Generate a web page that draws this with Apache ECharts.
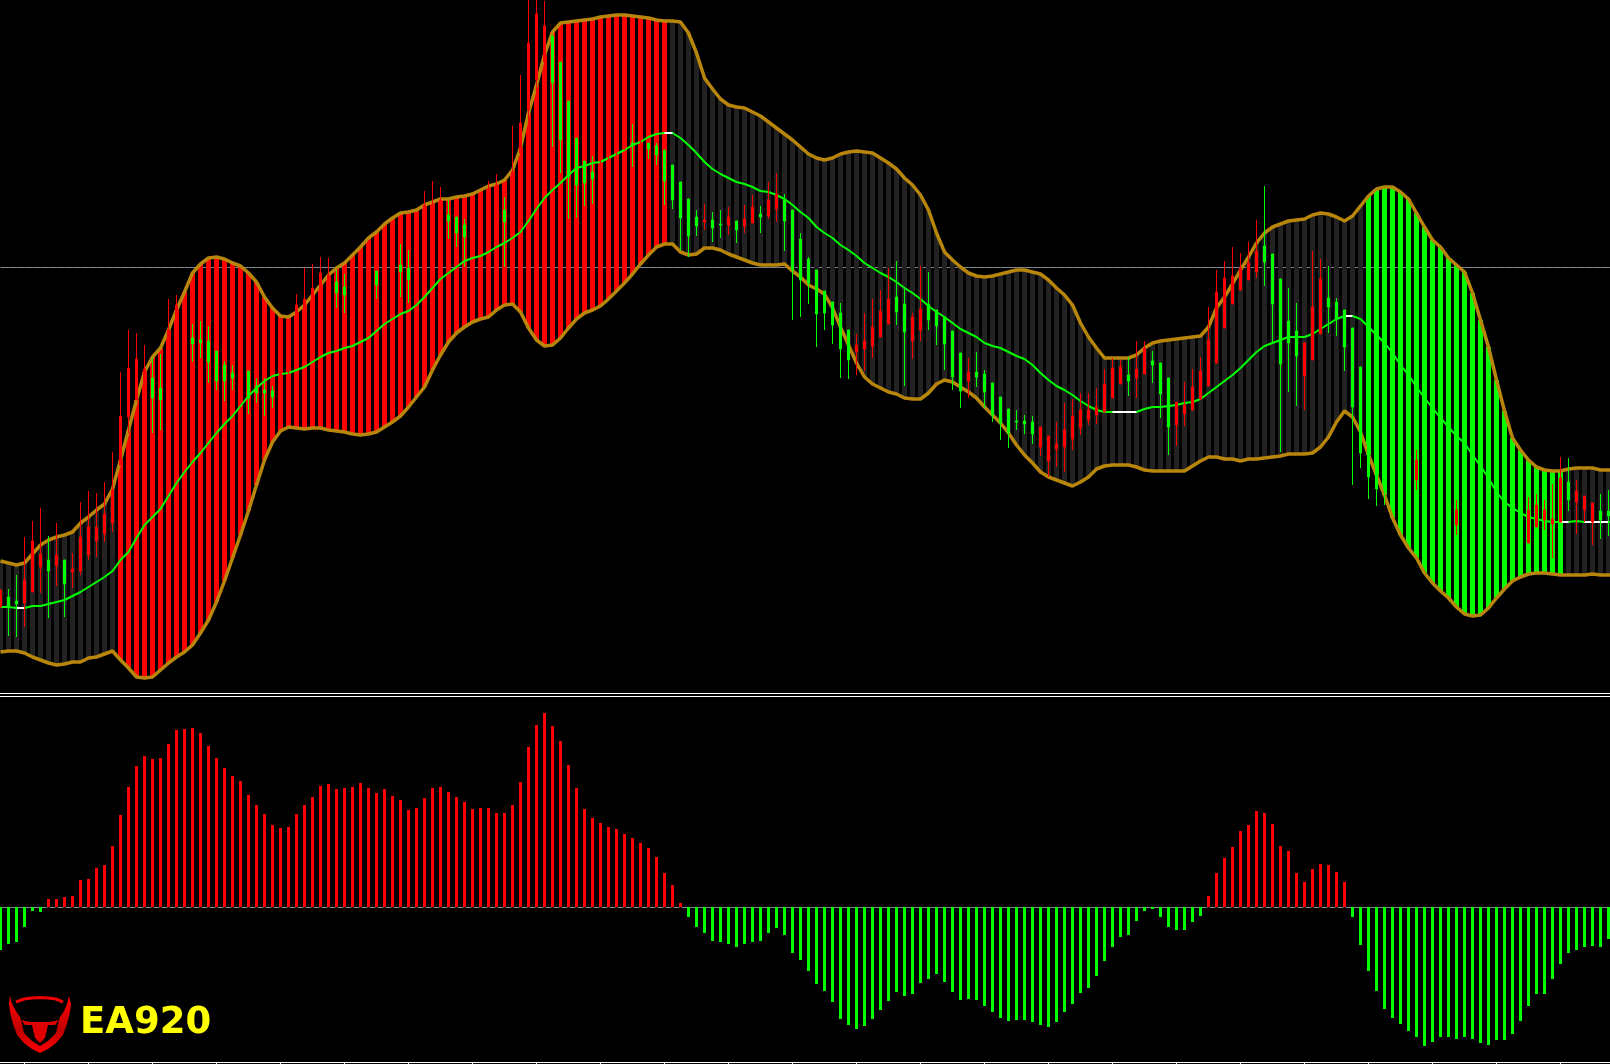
<!DOCTYPE html>
<html>
<head>
<meta charset="utf-8">
<style>html,body{margin:0;padding:0;background:#000;overflow:hidden}#c{width:1610px;height:1064px}</style>
<script src="https://cdn.jsdelivr.net/npm/echarts@6/dist/echarts.min.js"></script>
</head>
<body>
<div id="c"></div>
<script>
// Values are price points.
const upperBand = [132,130,128,130,139,148,153,156,158,161,170,176,183,189,204,233,263,293,321,336,345,363,383,401,420,429,435,436,434,430,427,420,411,396,385,377,376,381,388,398,408,418,425,430,438,446,455,461,469,475,480,481,483,488,491,494,494,496,497,499,503,507,509,513,523,545,580,608,638,661,670,671,672,673,674,676,677,678,678,677,676,675,673,672,672,671,660,640,615,604,594,588,586,585,581,577,571,565,559,553,546,539,535,533,535,539,541,542,541,540,535,530,524,515,508,498,483,460,441,433,426,420,417,416,417,419,421,423,423,421,419,413,405,398,388,370,356,345,335,335,335,335,338,345,350,352,353,354,355,356,357,366,385,396,409,423,436,450,460,466,469,472,473,474,478,480,479,476,472,477,487,497,504,506,506,501,494,480,466,453,446,435,428,421,400,373,346,313,282,255,243,233,226,223,222,222,224,225,225,225,223,223,223];
const lowerBand = [41,42,42,40,36,33,30,28,29,31,31,35,36,39,42,33,25,16,15,16,23,30,36,41,48,60,73,91,112,135,158,182,208,233,251,262,266,265,264,265,265,263,262,261,259,258,259,261,266,271,277,286,296,306,323,338,351,360,366,371,374,376,383,388,389,381,365,353,347,348,355,365,374,380,383,387,394,402,410,419,429,438,446,449,449,441,438,439,445,445,443,439,436,433,430,428,428,428,429,422,416,408,404,399,385,366,348,330,316,309,305,301,299,295,294,294,300,309,313,311,306,301,295,286,278,270,260,248,238,230,221,216,213,210,207,211,216,224,227,228,228,228,226,223,222,222,222,222,222,227,232,236,236,234,234,232,234,234,235,236,237,239,239,239,240,246,256,271,282,276,261,238,218,198,175,158,145,135,120,110,102,95,86,79,77,78,85,95,104,112,116,119,120,120,119,118,118,118,118,119,118,118,118];
const middleLine = [86,86,85,85,87,87,89,91,93,97,101,106,111,116,122,133,141,155,168,176,184,197,210,221,231,240,250,260,269,277,287,297,305,312,317,319,320,323,326,331,336,340,342,345,347,351,355,362,369,374,379,382,388,396,405,414,420,426,432,435,437,441,446,450,455,461,472,484,495,503,510,518,525,527,530,531,535,539,543,548,551,556,559,560,560,555,548,540,531,524,519,515,511,509,506,502,501,498,494,488,481,475,466,460,455,448,443,437,430,425,420,416,411,405,400,394,387,381,376,370,364,360,356,350,347,345,341,337,334,328,320,313,307,303,298,292,287,283,281,281,281,281,281,284,286,286,287,288,290,291,294,300,306,312,318,325,333,341,347,350,353,356,356,356,359,364,369,374,377,377,374,366,358,350,340,328,318,306,295,285,275,266,257,250,238,227,215,201,191,185,180,176,174,172,171,171,171,172,171,171,171,171,171];
const flatRuns = [[2,3],[83,84],[139,142],[168,169],[195,196],[198,199],[200,201]];
const trendRuns = [[0,14,'flat'],[15,83,'up'],[84,170,'flat'],[171,195,'down'],[196,202,'flat']];
const candleDir = 'RGGRRRGRGRRRRRRRRRRGGRRRGGGGGGRGGGGRRRRRRRGGRRRGRRGGRRRRGGGRRRRGRRRRRGGGGGGRRRRGRGGGGGGGRGGRGRRGRRGGGGGGGGGRRRRRGGRRGGGGGRGGGGGGGGRRRRRRRRRRRGRRGGGRRRRRRRRRRRGGGGGRRRGGGGGGGGGGGRGGGGRGGGGGGGGRRRRRGRRRGGGGR';
const candleHigh = [103,104,118,156,172,185,157,170,133,140,191,202,200,211,241,321,363,360,348,335,339,394,398,393,369,372,367,342,332,328,353,322,315,315,307,343,363,399,425,429,436,435,423,419,431,443,453,422,458,463,449,443,478,502,512,506,493,476,474,493,498,512,519,496,567,618,693,693,692,657,631,592,555,532,537,573,578,583,583,569,588,550,550,543,528,511,494,483,489,481,483,486,472,488,498,487,511,520,499,483,460,436,423,402,391,390,363,359,380,394,403,425,432,405,380,427,421,383,376,362,340,335,341,323,310,296,284,283,278,277,266,257,271,290,294,300,300,305,324,335,333,336,352,352,342,330,315,291,311,324,336,386,423,432,446,440,451,473,507,439,414,405,390,351,442,434,427,395,383,365,326,308,283,263,263,220,253,243,233,223,210,203,193,188,178,173,168,163,159,166,179,196,199,193,209,236,235,213,197,190,199,203];
const candleBodyTop = [103,96,92,113,152,139,133,138,133,124,156,166,166,179,203,277,325,334,324,315,305,363,388,373,355,353,352,342,328,320,343,322,307,303,302,333,348,388,394,405,420,418,411,406,423,438,443,422,448,453,428,425,468,488,488,493,478,476,468,483,488,498,508,483,521,570,650,679,667,657,631,592,555,532,521,563,568,573,571,550,578,550,547,543,528,511,494,476,473,473,469,476,472,474,486,479,493,499,493,483,454,434,423,402,391,380,363,348,352,366,382,394,396,389,376,384,389,383,376,362,340,321,321,319,310,296,284,272,272,271,266,257,249,263,277,283,283,286,309,325,326,318,324,345,332,330,315,291,288,306,322,353,401,415,417,425,430,442,447,439,414,372,362,350,386,414,395,391,383,365,326,298,273,253,253,207,243,233,223,213,199,193,183,178,168,163,158,153,142,142,161,183,188,183,174,215,211,202,197,190,182,182];
const candleBodyBottom = [86,86,89,90,101,126,122,127,109,121,122,138,152,159,170,228,276,293,293,295,293,343,373,353,349,350,331,312,312,315,328,295,300,300,296,318,328,368,368,383,398,403,400,398,408,423,428,408,433,438,421,413,448,468,473,478,472,460,456,468,473,478,488,471,493,540,583,613,631,610,553,516,508,510,514,543,548,553,555,547,563,544,538,512,493,475,457,467,471,465,468,468,463,467,470,476,477,484,472,423,413,410,379,380,368,344,333,341,344,347,356,369,381,361,352,363,373,367,349,316,302,312,316,301,278,270,260,271,269,259,246,232,244,246,254,265,273,278,281,295,309,312,315,319,328,299,266,268,279,283,294,307,330,365,389,403,413,421,431,389,329,350,337,317,333,359,386,374,346,286,240,216,204,203,233,203,223,213,203,193,180,173,168,163,153,148,143,143,140,140,141,150,166,173,169,171,193,191,183,171,173,177];
const candleLow = [86,57,56,66,101,100,75,107,76,105,118,133,136,151,161,228,260,293,283,260,263,333,353,338,331,335,310,303,292,303,313,279,290,277,285,303,313,353,353,363,378,388,385,380,395,408,413,394,418,423,396,390,433,453,458,463,454,446,426,453,458,463,473,426,478,533,558,578,608,546,520,474,475,487,489,528,533,538,543,526,548,534,528,488,484,443,436,457,463,451,455,458,450,460,470,460,474,471,442,373,376,389,346,363,349,315,314,318,322,335,356,369,368,307,334,352,363,348,323,303,285,295,306,285,271,253,245,263,259,249,237,216,226,221,243,258,268,269,281,295,309,297,295,319,310,275,238,247,267,283,293,307,330,365,389,403,413,415,407,351,241,301,287,283,333,359,360,357,322,208,225,194,187,188,218,200,213,203,193,183,167,163,158,153,143,138,133,133,126,126,138,150,166,163,135,171,182,159,171,148,154,157];
const oscillator = [-43,-37,-35,-20,-4,-5,8,8,10,11,27,28,39,42,61,92,120,141,151,148,149,163,177,178,179,174,161,149,139,131,126,112,102,93,82,79,80,93,102,110,121,123,118,119,120,124,119,114,118,111,107,97,99,109,119,120,115,110,105,98,99,99,94,94,102,125,160,182,194,181,166,142,119,98,89,84,80,78,73,69,64,59,50,34,22,4,-10,-20,-26,-34,-35,-37,-40,-37,-35,-34,-26,-21,-28,-46,-53,-64,-77,-84,-95,-112,-118,-122,-119,-112,-103,-94,-85,-89,-87,-76,-72,-67,-75,-85,-93,-92,-93,-99,-105,-111,-114,-113,-113,-115,-118,-120,-115,-105,-97,-86,-81,-69,-54,-40,-30,-28,-14,-4,-2,-10,-20,-23,-23,-15,-9,11,34,49,60,76,82,96,94,83,61,56,34,25,38,43,42,35,25,-10,-38,-64,-84,-102,-111,-117,-124,-130,-139,-135,-130,-130,-132,-130,-132,-136,-138,-133,-133,-127,-114,-99,-87,-87,-72,-57,-46,-43,-40,-39,-40,-32];
const referenceLevel = 425.5;
const logoText = 'EA920';

const RED = '#ff0000', LIME = '#00ff00', GOLD = '#b8860b', FLAT = '#222222', GRAY = '#808890', WHITE = '#ffffff';
const categories = upperBand.map((_, i) => i + 1);
const zoneColor = {flat: FLAT, up: RED, down: LIME};
const bandColor = categories.map((_, i) => zoneColor[trendRuns.find(r => i >= r[0] && i <= r[1])[2]]);
const whiteLine = categories.map((_, i) => flatRuns.some(r => i >= r[0] && i <= r[1]) ? middleLine[i] : null);
const candles = candleHigh.map((h, i) => {
  const up = candleDir[i] === 'R';
  return [up ? candleBodyBottom[i] : candleBodyTop[i], up ? candleBodyTop[i] : candleBodyBottom[i], candleLow[i], h];
});

const hiddenAxis = {show: false, scale: false, splitLine: {show: false}};
const xBase = {type: 'category', data: categories, axisLabel: {show: false}, splitLine: {show: false}, boundaryGap: true};
const chart = echarts.init(document.getElementById('c'), null, {renderer: 'canvas'});
chart.setOption({
  animation: false,
  backgroundColor: '#000',
  grid: [
    {left: -3.5, top: 0, width: 8 * categories.length, height: 693, containLabel: false, outerBoundsMode: 'none'},
    {left: -3.5, top: 696, width: 8 * categories.length, height: 366, containLabel: false, outerBoundsMode: 'none'}
  ],
  xAxis: [
    Object.assign({}, xBase, {gridIndex: 0, position: 'bottom', axisTick: {show: false},
      axisLine: {show: true, onZero: false, lineStyle: {color: WHITE, width: 1}}}),
    Object.assign({}, xBase, {gridIndex: 1, axisTick: {show: false},
      axisLine: {show: true, onZero: true, lineStyle: {color: GRAY, width: 1, type: [5, 3], dashOffset: 2.5}}}),
    Object.assign({}, xBase, {gridIndex: 1, position: 'bottom',
      axisLine: {show: true, onZero: false, lineStyle: {color: WHITE, width: 1}},
      axisTick: {show: true, alignWithLabel: true, length: 2, interval: i => i % 8 === 3, lineStyle: {color: WHITE}}}),
    Object.assign({}, xBase, {gridIndex: 1, position: 'top', axisTick: {show: false},
      axisLine: {show: true, onZero: false, lineStyle: {color: WHITE, width: 1}}})
  ],
  yAxis: [
    Object.assign({}, hiddenAxis, {type: 'value', gridIndex: 0, min: 0, max: 693}),
    Object.assign({}, hiddenAxis, {type: 'value', gridIndex: 1, min: -155, max: 211})
  ],
  series: [
    {name: 'Level', type: 'line', z: 1, xAxisIndex: 0, yAxisIndex: 0, symbol: 'none', silent: true,
      data: categories.map(() => referenceLevel), lineStyle: {color: GRAY, width: 1}},
    {name: 'Band base', type: 'bar', z: 2, stack: 'band', xAxisIndex: 0, yAxisIndex: 0, barWidth: 5,
      data: lowerBand.slice(), itemStyle: {color: 'transparent'}},
    {name: 'Band', type: 'bar', z: 2, stack: 'band', xAxisIndex: 0, yAxisIndex: 0, barWidth: 5,
      data: upperBand.map((u, i) => u - lowerBand[i]),
      itemStyle: {color: p => bandColor[p.dataIndex]}},
    {name: 'Upper', type: 'line', z: 3, xAxisIndex: 0, yAxisIndex: 0, symbol: 'none', data: upperBand,
      lineStyle: {color: GOLD, width: 3.5}},
    {name: 'Lower', type: 'line', z: 3, xAxisIndex: 0, yAxisIndex: 0, symbol: 'none', data: lowerBand,
      lineStyle: {color: GOLD, width: 3.5}},
    {name: 'Middle', type: 'line', z: 4, xAxisIndex: 0, yAxisIndex: 0, symbol: 'none', data: middleLine,
      lineStyle: {color: LIME, width: 2}},
    {name: 'Middle flat', type: 'line', z: 4, xAxisIndex: 0, yAxisIndex: 0, symbol: 'none', data: whiteLine,
      connectNulls: false, lineStyle: {color: WHITE, width: 2}},
    {name: 'Price', type: 'candlestick', z: 5, xAxisIndex: 0, yAxisIndex: 0, barWidth: 2, data: candles,
      itemStyle: {color: RED, color0: LIME, borderColor: RED, borderColor0: LIME, borderWidth: 1}},
    {name: 'Oscillator', type: 'bar', z: 2, xAxisIndex: 1, yAxisIndex: 1, barWidth: 3, data: oscillator,
      itemStyle: {color: p => p.value >= 0 ? RED : LIME}}
  ],
  graphic: [
    {type: 'polygon', z: 20, shape: {points: [[10,996],[9,1004],[10,1012],[13,1024],[17,1035],[24,1043],[32,1049],[40,1053],[48,1049],[56,1043],[63,1035],[67,1024],[70,1012],[71,1004],[69,996],[67,1004],[64,1011],[60,1017],[58,1024],[56,1033],[48,1041],[40,1046],[32,1041],[24,1033],[22,1024],[20,1017],[16,1011],[12,1004]]},
      style: {fill: {type: 'linear', x: 0, y: 0, x2: 0, y2: 1, colorStops: [{offset: 0, color: '#ff0000'}, {offset: 0.6, color: '#c00000'}, {offset: 1, color: '#ff0000'}]}}},
    {type: 'polyline', z: 20, shape: {points: [[16,1002],[24,999],[32,998],[40,997.5],[48,998],[56,999],[63,1002]]},
      style: {fill: 'none', stroke: '#f00000', lineWidth: 3}},
    {type: 'polygon', z: 20, shape: {points: [[21,1020],[30,1022],[50,1022],[59,1020],[55,1025],[48,1025],[45,1038],[40,1043],[35,1038],[32,1025],[25,1025]]},
      style: {fill: '#e00000'}},
    {type: 'text', z: 20, x: 80, y: 1023, style: {text: logoText, fill: '#ffff00', font: 'bold 37px "DejaVu Sans"', verticalAlign: 'middle'}}
  ]
});
</script>
</body>
</html>
